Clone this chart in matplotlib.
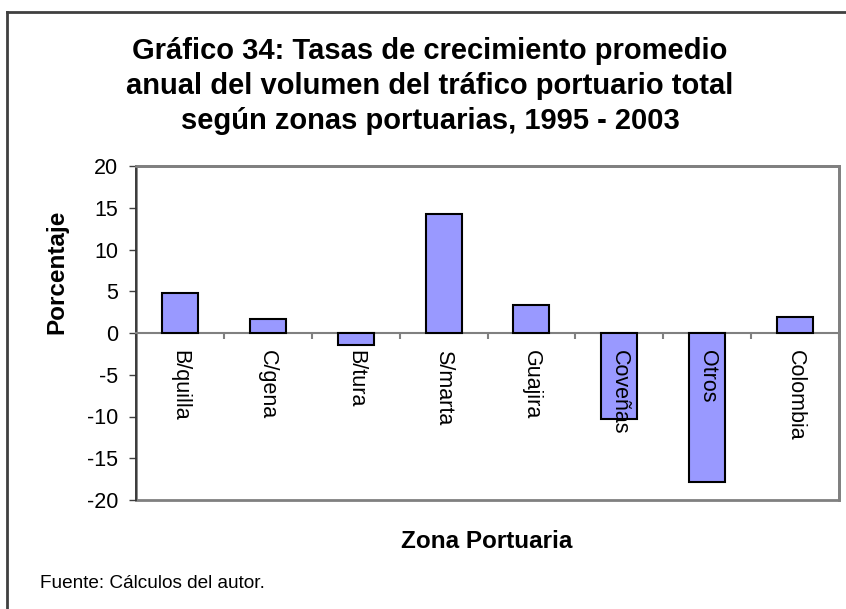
import matplotlib
matplotlib.use("Agg")
import matplotlib.pyplot as plt
from matplotlib.patches import Rectangle
from matplotlib.lines import Line2D
import numpy as np

plt.rcParams['font.family'] = ['Liberation Sans', 'DejaVu Sans']
plt.rcParams['axes.unicode_minus'] = False

zonas = ["B/quilla", "C/gena", "B/tura", "S/marta", "Guajira", "Coveñas", "Otros", "Colombia"]
tasas = [4.75, 1.64, -1.44, 14.3, 3.35, -10.3, -17.9, 1.9]

titulo = ("Gráfico 34: Tasas de crecimiento promedio\n"
          "anual del volumen del tráfico portuario total\n"
          "según zonas portuarias, 1995 - 2003")

W, H = 846, 609
fig = plt.figure(figsize=(W / 100, H / 100), dpi=100)

# outer chart frame (only top and left edges fall inside the canvas)
fig.add_artist(Line2D([7 / W, 7 / W], [0, 1 - 12 / H], color="#404040", lw=2))
fig.add_artist(Line2D([7 / W, 1], [1 - 12 / H, 1 - 12 / H], color="#404040", lw=2))

left, right, top, bottom = 136, 839, 166, 500
ax = fig.add_axes([left / W, 1 - bottom / H, (right - left) / W, (bottom - top) / H])

x = np.arange(len(zonas))
ax.bar(x, tasas, width=0.41, color="#9999FF", edgecolor="black", linewidth=1.5, zorder=3)

ax.set_xlim(-0.5, len(zonas) - 0.5)
ax.set_ylim(-20, 20)
ax.set_yticks(np.arange(-20, 21, 5))
ax.tick_params(axis="y", direction="out", length=5, width=1, color="#404040",
               labelsize=15.5, pad=8)

# category axis sits on the zero line, tick marks between categories
ax.spines["bottom"].set_position(("data", 0))
ax.spines["bottom"].set_color("#808080")
ax.spines["bottom"].set_linewidth(1.5)
ax.set_xticks(np.arange(-0.5, len(zonas) + 0.5, 1))
ax.set_xticklabels([])
ax.tick_params(axis="x", direction="out", length=4.5, width=1.5, color="#808080")

# category names hang below the zero line, drawn above the bars
for xi, nombre in zip(x, zonas):
    ax.annotate(nombre, xy=(xi, 0), xytext=(0, -17), textcoords="offset pixels",
                rotation=-90, ha="center", va="top", fontsize=15.5, zorder=5)

for s in ("top", "right"):
    ax.spines[s].set_color("#808080")
    ax.spines[s].set_linewidth(2)
ax.spines["left"].set_color("#303030")
ax.spines["left"].set_linewidth(1.2)
ax.add_patch(Rectangle((0, 0), 1, 1, transform=ax.transAxes, fill=False,
                       ec="#808080", lw=2, clip_on=False, zorder=1))

fig.text(430 / W, 1 - 86 / H, titulo, ha="center", va="center", fontsize=21,
         fontweight="bold", linespacing=1.3)
fig.text(57 / W, 1 - 272 / H, "Porcentaje", rotation=90, ha="center", va="center",
         fontsize=17.5, fontweight="bold")
fig.text(487 / W, 1 - 542 / H, "Zona Portuaria", ha="center", va="center",
         fontsize=17.5, fontweight="bold")
fig.text(40 / W, 1 - 584 / H, "Fuente: Cálculos del autor.", ha="left", va="center",
         fontsize=13.7)

fig.savefig("out.png", dpi=100)
